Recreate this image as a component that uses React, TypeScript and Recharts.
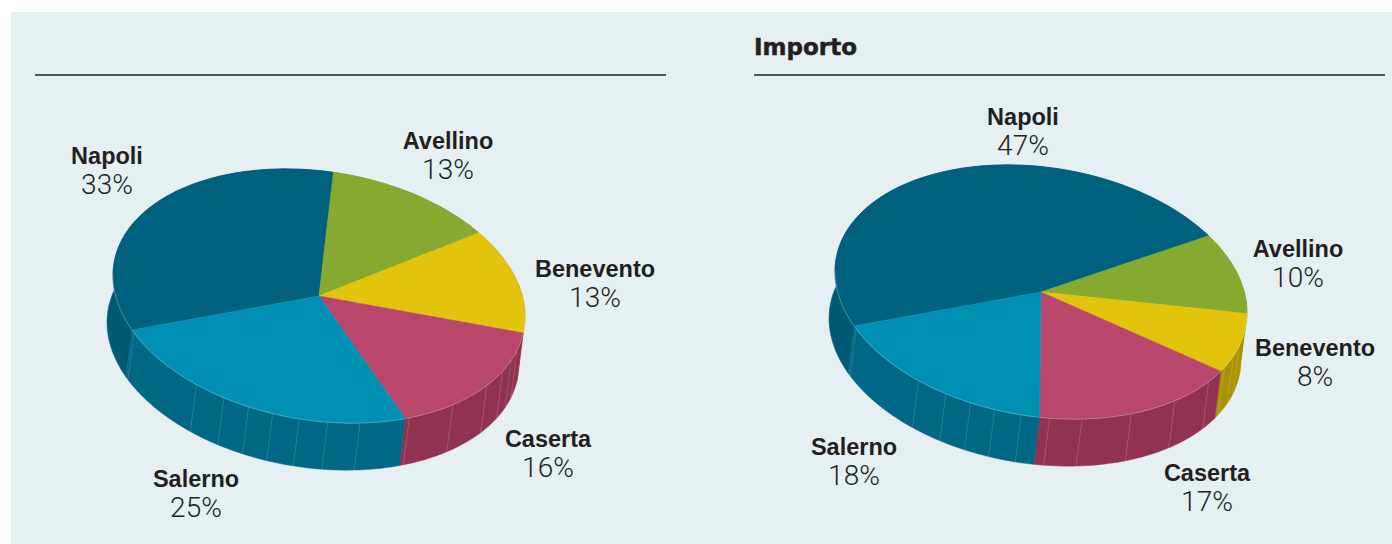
import { Pie, PieChart } from "recharts";

const provinces = ["Napoli", "Avellino", "Benevento", "Caserta", "Salerno"];
const contrattiShares = [33, 13, 13, 16, 25];
const importoShares = [47, 10, 8, 17, 18];

const topColors = ["#00617f", "#86aa30", "#e1c40b", "#b9466b", "#0090b4"];
const wallColors = ["#005a74", "#6d8a26", "#a99300", "#923252", "#006784"];

// label centres [x, y of name line]
const leftLabelAt = [[107, 156], [448, 141], [595, 269], [548, 439], [196, 479]];
const rightLabelAt = [[1023, 117], [1298, 249], [1315, 348], [1207, 473], [854, 447]];

// where the thin fold lines sit on the side wall, degrees clockwise from the top
const wallFolds = [243.9, 216.5, 207.5, 200, 193, 185.5, 177.6, 168.5, 154, 139.5, 125.5, 117, 111, 106];

const RX = 206;
const SQUASH = 0.609;
const SHEAR = 0.1;
const DEPTH_X = -6;
const DEPTH_Y = 47;
const START = 204.8;

const rad = Math.PI / 180;

function rimPoint(cx: number, cy: number, deg: number) {
  const dx = RX * Math.cos(deg * rad);
  const dy = -RX * SQUASH * Math.sin(deg * rad) + SHEAR * dx;
  return [cx + dx, cy + dy];
}

function arcPoints(cx: number, cy: number, from: number, to: number) {
  const pts: number[][] = [];
  const steps = Math.max(2, Math.ceil(Math.abs(to - from) / 2));
  for (let i = 0; i <= steps; i++) {
    pts.push(rimPoint(cx, cy, from + ((to - from) * i) / steps));
  }
  return pts;
}

const toPath = (pts: number[][]) => pts.map((p, i) => `${i ? "L" : "M"}${p[0].toFixed(2)} ${p[1].toFixed(2)}`).join(" ");

function TopSlice(props: any) {
  const { cx, cy, startAngle, endAngle, name } = props;
  const fill = topColors[provinces.indexOf(name)];
  const rim = arcPoints(cx, cy, startAngle, endAngle);
  const front: number[][] = [];
  for (let a = startAngle; a >= endAngle; a -= 1) {
    if (Math.sin(a * rad) < 0.02) front.push(rimPoint(cx, cy, a));
  }
  return (
    <g>
      <path d={`M${cx} ${cy} ${toPath(rim).replace("M", "L")} Z`} fill={fill} stroke={fill} strokeWidth={0.5} />
      {front.length > 1 && <path d={toPath(front)} fill="none" stroke="#ffffff" strokeOpacity={0.4} strokeWidth={0.6} />}
    </g>
  );
}

function WallSlice(props: any) {
  const { cx, cy, startAngle, endAngle, name } = props;
  const fill = wallColors[provinces.indexOf(name)];
  const rim = arcPoints(cx, cy, startAngle, endAngle);
  const lower = [...rim].reverse().map((p) => [p[0] + DEPTH_X, p[1] + DEPTH_Y]);
  const folds = wallFolds.map((t) => 90 - t).filter((a) => a <= startAngle && a >= endAngle);
  return (
    <g>
      <path d={`${toPath(rim)} ${toPath(lower).replace("M", "L")} Z`} fill={fill} stroke={fill} strokeWidth={0.5} />
      {folds.map((a) => {
        const p = rimPoint(cx, cy, a);
        return (
          <line
            key={a}
            x1={p[0]}
            y1={p[1]}
            x2={p[0] + DEPTH_X}
            y2={p[1] + DEPTH_Y}
            stroke="#ffffff"
            strokeOpacity={0.22}
            strokeWidth={0.7}
          />
        );
      })}
    </g>
  );
}

function sliceLabel(at: number[][], shares: number[]) {
  return (props: any) => {
    const i = props.index;
    return (
      <g key={i}>
        <text
          x={at[i][0]}
          y={at[i][1]}
          textAnchor="middle"
          dominantBaseline="central"
          fontFamily="Liberation Sans"
          fontWeight={700}
          fontSize={23.5}
          fill="#231f20"
        >
          {provinces[i]}
        </text>
        <text
          x={at[i][0]}
          y={at[i][1] + 28.5}
          textAnchor="middle"
          dominantBaseline="central"
          fontFamily="Roboto"
          fontWeight={300}
          fontSize={28}
          fill="#231f20"
        >
          {shares[i]}%
        </text>
      </g>
    );
  };
}

const toRows = (shares: number[]) => provinces.map((name, i) => ({ name, value: shares[i] }));

function ThickPie({ shares, cx, cy, labelAt }: { shares: number[]; cx: number; cy: number; labelAt: number[][] }) {
  const left = cx < 696 ? 0 : 696;
  return (
    <PieChart
      width={696}
      height={532}
      margin={{ top: 0, right: 0, bottom: 0, left: 0 }}
      style={{ position: "absolute", left, top: 0 }}
    >
      <Pie
        data={toRows(shares)}
        dataKey="value"
        nameKey="name"
        cx={cx - left}
        cy={cy}
        outerRadius={RX}
        startAngle={START}
        endAngle={START - 360}
        shape={WallSlice}
        stroke="none"
        isAnimationActive={false}
      />
      <Pie
        data={toRows(shares)}
        dataKey="value"
        nameKey="name"
        cx={cx - left}
        cy={cy}
        outerRadius={RX}
        startAngle={START}
        endAngle={START - 360}
        shape={TopSlice}
        stroke="none"
        labelLine={false}
        label={sliceLabel(labelAt.map((p) => [p[0] - left, p[1]]), shares)}
        isAnimationActive={false}
      />
    </PieChart>
  );
}

export default function App() {
  return (
    <div style={{ position: "absolute", left: 0, top: 0, width: 1392, height: 544, background: "#fff", overflow: "hidden" }}>
      <div style={{ position: "absolute", left: 11, top: 12, width: 1381, height: 532, background: "#e6eff2" }} />
      <div style={{ position: "absolute", left: 35, top: 74, width: 631, height: 2, background: "#555" }} />
      <div style={{ position: "absolute", left: 754, top: 74, width: 631, height: 2, background: "#555" }} />
      <div
        style={{
          position: "absolute",
          left: 754,
          top: 33,
          fontFamily: "DejaVu Sans",
          fontWeight: 700,
          fontSize: 23,
          lineHeight: "28px",
          color: "#231f20",
          WebkitTextStroke: "0.5px #231f20",
        }}
      >
        Importo
      </div>
      <ThickPie shares={contrattiShares} cx={319} cy={296} labelAt={leftLabelAt} />
      <ThickPie shares={importoShares} cx={1041} cy={292} labelAt={rightLabelAt} />
    </div>
  );
}
